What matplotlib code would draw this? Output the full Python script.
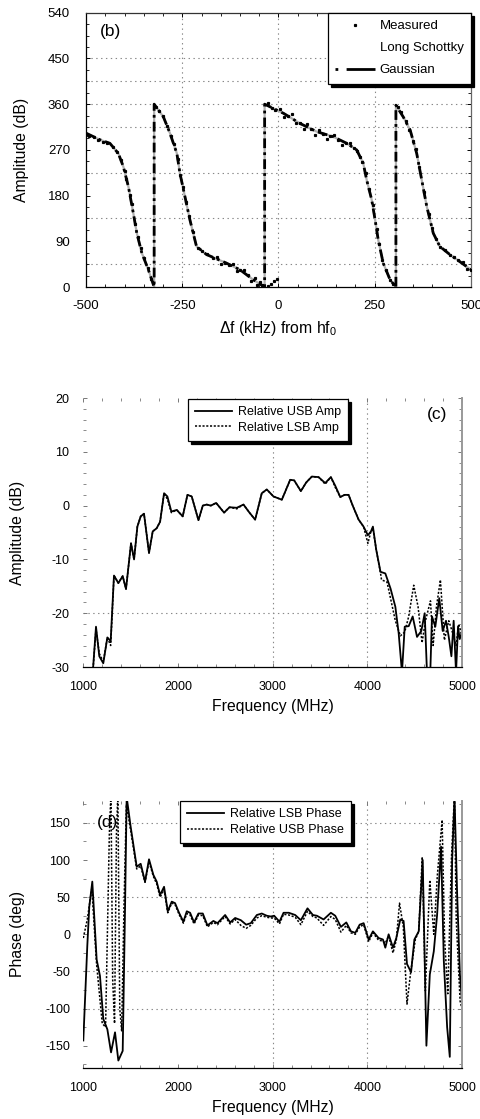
import matplotlib
matplotlib.use("Agg")
import matplotlib.pyplot as plt
from matplotlib.ticker import MultipleLocator
from matplotlib.lines import Line2D

plt.rcParams['font.family'] = ['Liberation Sans', 'DejaVu Sans']
plt.rcParams['mathtext.default'] = 'regular'
plt.rcParams['lines.scale_dashes'] = False
plt.rcParams['axes.unicode_minus'] = False

# ---- panel (b): phase sawtooth vs offset frequency ----
gauss_df = [-500, -464, -438, -416, -403, -390, -377, -368, -355, -338, -323,
            -323, -299, -282, -264, -256, -243, -230, -213, -187, -135, -100, -65, -36,
            -36, 13, 56, 99, 142, 177, 203, 220, 229, 242, 251, 259, 272, 290, 305,
            305, 324, 342, 359, 372, 385, 402, 419, 445, 471, 500]
gauss_amp = [303, 290, 283, 263, 237, 198, 145, 106, 67, 34, 0,
             360, 335, 303, 263, 224, 178, 132, 80, 64, 47, 34, 14, 0,
             360, 342, 322, 306, 296, 283, 270, 244, 211, 172, 132, 93, 47, 14, 0,
             358, 335, 309, 263, 211, 159, 106, 80, 64, 50, 34]

meas_df = [-500, -492, -480, -470, -455, -445, -430, -420, -410, -400, -395, -385, -380, -372,
           -365, -358, -350, -340, -330,
           -318, -310, -300, -290, -280, -272, -262, -255, -248, -240, -232, -222, -210, -198,
           -185, -170, -160, -150, -140, -128, -118, -108, -100, -90, -80, -72, -62, -55, -48, -42,
           -28, -20, -12, -5,
           -28, -18, -8, 5, 15, 25, 35, 45, 55, 65, 75, 85, 95, 105, 115, 125, 135, 145, 155,
           165, 175, 185, 195, 205, 212, 218, 226, 235, 245, 255, 262, 270, 280, 290, 298,
           310, 318, 330, 340, 350, 356, 365, 378, 390, 398, 410, 420, 432, 445, 455, 465, 478,
           490, 500]
meas_amp = [300, 298, 295, 290, 286, 284, 276, 266, 250, 228, 212, 182, 164, 124,
            98, 76, 58, 38, 16,
            355, 346, 336, 318, 298, 281, 253, 220, 196, 168, 140, 108, 77, 71,
            66, 58, 60, 46, 48, 44, 45, 32, 34, 33, 23, 12, 18, 3, 10, 3,
            2, 6, 11, 16,
            362, 353, 349, 350, 335, 337, 340, 322, 322, 312, 320, 311, 300, 310, 302, 292, 298,
            300, 290, 280, 284, 283, 274, 267, 256, 247, 225, 193, 162, 114, 84, 54, 33, 14, 6,
            355, 345, 326, 310, 287, 272, 236, 187, 143, 116, 94, 79, 72, 64, 59, 53, 50,
            36, 34]

# ---- panel (c): relative sideband amplitude ----
usb_f = [1100, 1134, 1169, 1211, 1254, 1289, 1324, 1370, 1416, 1451, 1504, 1536, 1571, 1606,
         1641, 1694, 1733, 1775, 1811, 1853, 1888, 1930, 1987, 2050, 2100, 2145, 2216, 2262,
         2304, 2347, 2403, 2487, 2544, 2621, 2692, 2755, 2815, 2885, 2938, 3009, 3097, 3185,
         3227, 3298, 3354, 3414, 3485, 3555, 3615, 3661, 3714, 3760, 3802, 3848, 3908, 3960,
         4006, 4038, 4059, 4094, 4139, 4190, 4245, 4296, 4331, 4366, 4395, 4437, 4479, 4525,
         4570, 4606, 4630, 4665, 4683, 4718, 4760, 4796, 4831, 4860, 4888, 4912, 4937, 4958,
         4976, 5000]
usb_amp = [-31, -22.5, -28, -29.3, -24.5, -25.2, -13, -14.4, -13.1, -15.5, -7, -10, -3.9, -2,
           -1.5, -8.8, -4.8, -4.2, -3, 2.3, 1.7, -1.1, -0.8, -2, 2, 1.7, -2.7, 0,
           0.2, 0, 0.5, -1.3, -0.3, -0.4, 0.2, -1.3, -2.6, 2.3, 3, 1.7, 1.1, 4.8,
           4.7, 2.7, 4.3, 5.4, 5.3, 4.2, 5.3, 3.7, 1.6, 2, 2, -0.1, -2.6, -3.9,
           -5.5, -4.8, -3.9, -8.2, -12.3, -12.6, -15.4, -18.8, -23.7, -31, -22.5, -22.4, -20.6, -24.4,
           -23.3, -20, -31, -31, -20.6, -22.5, -17.2, -23.3, -21.4, -24.4, -28, -21.4, -31, -22.5,
           -24.8, -23.5]
lsb_f = [1100, 1134, 1169, 1211, 1254, 1289, 1324, 1370, 1416, 1451, 1504, 1536, 1571, 1606,
         1641, 1694, 1733, 1775, 1811, 1853, 1888, 1930, 1987, 2050, 2100, 2145, 2216, 2262,
         2304, 2347, 2403, 2487, 2544, 2621, 2692, 2755, 2815, 2885, 2938, 3009, 3097, 3185,
         3227, 3298, 3354, 3414, 3485, 3555, 3615, 3661, 3714, 3760, 3802, 3848, 3908, 3960,
         4006, 4038, 4059, 4094, 4139, 4150, 4208, 4296, 4349, 4395, 4437, 4490, 4536, 4578,
         4614, 4667, 4695, 4730, 4772, 4814, 4860, 4895, 4937, 4965, 5000]
lsb_amp = [-31, -23, -27.5, -29, -24.5, -26, -13, -14.4, -13.1, -15.5, -7, -10, -3.9, -2,
           -1.5, -8.8, -4.8, -4.2, -3, 2.3, 1.2, -1.3, -0.8, -2, 2, 1.7, -2.7, 0,
           0.2, 0, 0.5, -1.3, -0.3, -0.6, 0.2, -1.3, -2.6, 2.3, 3, 1.7, 1.1, 4.8,
           4.7, 2.7, 4.3, 5.4, 5.3, 4.0, 5.3, 3.4, 1.6, 2, 2, -0.1, -2.6, -3.9,
           -7, -4.8, -4.2, -8.2, -12.5, -13.8, -14.2, -21.4, -24.2, -23.5, -20.6, -14.8, -18.8, -25.5,
           -21.4, -17.7, -26, -18.8, -13.8, -25, -21.4, -23.3, -26, -22, -24.2]

# ---- panel (d): relative sideband phase ----
lsbp_f = [1000, 1042, 1063, 1095, 1141, 1176, 1211, 1254, 1293, 1335, 1370, 1416, 1441, 1458,
          1500, 1564, 1606, 1652, 1694, 1740, 1775, 1811, 1853, 1892, 1934, 1969, 2011, 2057,
          2093, 2128, 2170, 2216, 2262, 2311, 2374, 2417, 2498, 2551, 2604, 2664, 2720, 2769,
          2833, 2885, 2938, 2981, 3016, 3072, 3115, 3171, 3238, 3298, 3368, 3425, 3467, 3538,
          3615, 3661, 3721, 3778, 3827, 3873, 3919, 3961, 4014, 4059, 4119, 4165, 4190, 4225,
          4271, 4306, 4348, 4383, 4419, 4462, 4497, 4543, 4585, 4624, 4660, 4702, 4737, 4779,
          4808, 4843, 4871, 4896, 4921, 4949, 4978, 5000]
lsbp_deg = [-143, -16, 37, 71, -34, -56, -114, -128, -159, -132, -170, -157, 37, 185,
            145, 91, 95, 71, 101, 80, 71, 53, 64, 31, 44, 42, 29, 17,
            31, 29, 16, 28, 28, 12, 18, 15, 26, 16, 22, 19, 13, 15,
            26, 28, 25, 24, 25, 17, 29, 29, 26, 19, 35, 26, 25, 20,
            29, 25, 10, 16, 4, 2, 13, 15, -7, 4, -5, -7, -18, 0,
            -18, -5, 20, 18, -40, -51, -7, 4, 100, -150, -54, -23, 26, 118,
            -36, -125, -165, 100, 185, 53, -54, -90]
usbp_f = [1000, 1042, 1090, 1140, 1200, 1235, 1275, 1292, 1310, 1330, 1350, 1365, 1385, 1405,
          1430, 1455, 1500, 1564, 1606, 1652, 1694, 1740, 1775, 1811, 1853, 1892, 1934, 1969,
          2011, 2057, 2093, 2128, 2170, 2216, 2262, 2311, 2374, 2417, 2498, 2551, 2604, 2664,
          2720, 2769, 2833, 2885, 2938, 2981, 3016, 3072, 3115, 3171, 3238, 3298, 3368, 3425,
          3467, 3538, 3615, 3661, 3721, 3778, 3827, 3873, 3919, 3961, 4014, 4059, 4119, 4165,
          4190, 4225, 4271, 4306, 4340, 4380, 4419, 4455, 4507, 4543, 4580, 4613, 4660, 4702,
          4740, 4790, 4816, 4850, 4889, 4921, 4939, 4980, 5000]
usbp_deg = [-5, 20, 62, -40, -120, -125, 135, 190, -60, -120, 135, 190, -100, -130,
            40, 175, 140, 88, 92, 70, 98, 78, 68, 50, 60, 29, 42, 40,
            27, 15, 28, 26, 14, 26, 25, 10, 16, 13, 24, 14, 20, 12,
            8, 12, 22, 25, 23, 22, 22, 14, 27, 26, 23, 13, 31, 24,
            22, 12, 24, 20, 3, 12, 2, 0, 10, 13, -10, 2, -8, -9,
            -12, -2, -25, -8, 42, 10, -94, -54, -7, 4, 104, -76, 73, 0,
            80, 154, -6, -80, 104, 190, 20, -90, -100]

fig = plt.figure(figsize=(4.81, 11.19), dpi=100)
LAB = 11.3

def grid_h(ax, vals):
    for v in vals:
        ax.axhline(v, color='#888888', ls=(0, (1, 2.5)), lw=0.8, zorder=0)

def grid_v(ax, vals):
    for v in vals:
        ax.axvline(v, color='#888888', ls=(0, (1, 2.5)), lw=0.8, zorder=0)

def legend_box(ax, **kw):
    leg = ax.legend(frameon=True, fancybox=False, edgecolor='black', framealpha=1,
                    shadow={'ox': 2.2, 'oy': -2.2, 'color': 'black', 'alpha': 1}, **kw)
    leg.get_frame().set_linewidth(0.9)
    return leg

# panel (b)
ax1 = fig.add_axes([0.1788, 0.7435, 0.8004, 0.2451])
grid_h(ax1, [45, 135, 225, 315, 360, 405, 450])
grid_v(ax1, [-250, 0, 250])
ax1.plot(gauss_df, gauss_amp, color='#b0b0b0', lw=1.6, zorder=2)
ax1.plot(meas_df, meas_amp, ls='none', marker='s', ms=1.3, color='black', zorder=3)
ax1.plot(gauss_df, gauss_amp, color='black', lw=2.0, dashes=(7, 3, 2, 3), zorder=4)
ax1.set_xlim(-500, 500)
ax1.set_ylim(0, 540)
ax1.xaxis.set_major_locator(MultipleLocator(250))
ax1.xaxis.set_minor_locator(MultipleLocator(50))
ax1.yaxis.set_major_locator(MultipleLocator(90))
ax1.yaxis.set_minor_locator(MultipleLocator(22.5))
ax1.set_xlabel('Δf (kHz) from hf$_0$', fontsize=LAB)
ax1.set_ylabel('Amplitude (dB)', fontsize=LAB)
ax1.xaxis.set_label_coords(0.5, -0.118)
ax1.yaxis.set_label_coords(-0.149, 0.5)
ax1.text(0.036, 0.93, '(b)', transform=ax1.transAxes, fontsize=12.5, va='center', ha='left')
h_meas = Line2D([], [], ls='none', marker='s', ms=1.3, color='black')
h_ls = Line2D([], [], color='white', lw=1)
h_g = Line2D([], [], color='black', lw=2.0, dashes=(2, 6, 22, 0))
legend_box(ax1, handles=[h_meas, h_ls, h_g], labels=['Measured', 'Long Schottky', 'Gaussian'],
           loc='upper right', bbox_to_anchor=(1.0, 1.0), fontsize=9.5, handlelength=3.0,
           labelspacing=0.74, borderpad=0.56, handletextpad=0.38, borderaxespad=0)
ax1.tick_params(axis='y', which='major', pad=11.5)
ax1.tick_params(axis='x', which='major', pad=9.5)
ax1.tick_params(which='both', labelsize=9.5)

# panel (c)
ax2 = fig.add_axes([0.1732, 0.4039, 0.7873, 0.2404])
grid_h(ax2, [-20])
grid_v(ax2, [3000, 4000])
ax2.plot(usb_f, usb_amp, color='black', lw=1.3, label='Relative USB Amp')
ax2.plot(lsb_f, lsb_amp, color='black', lw=1.1, dashes=(1.5, 1.2), label='Relative LSB Amp')
ax2.set_xlim(1000, 5000)
ax2.set_ylim(-30, 20)
ax2.xaxis.set_major_locator(MultipleLocator(1000))
ax2.xaxis.set_minor_locator(MultipleLocator(200))
ax2.yaxis.set_major_locator(MultipleLocator(10))
ax2.yaxis.set_minor_locator(MultipleLocator(2))
ax2.set_xlabel('Frequency (MHz)', fontsize=LAB)
ax2.set_ylabel('Amplitude (dB)', fontsize=LAB)
ax2.xaxis.set_label_coords(0.5, -0.119)
ax2.yaxis.set_label_coords(-0.155, 0.5)
ax2.text(0.934, 0.937, '(c)', transform=ax2.transAxes, fontsize=12.5, va='center', ha='center')
legend_box(ax2, loc='upper left', bbox_to_anchor=(0.2765, 0.996), fontsize=9, handlelength=2.9,
           labelspacing=0.28, borderpad=0.58, handletextpad=0.5, borderaxespad=0)
ax2.tick_params(axis='y', which='major', pad=10)
ax2.tick_params(axis='x', which='major', pad=10)

# panel (d)
ax3 = fig.add_axes([0.1732, 0.0456, 0.7873, 0.2389])
grid_h(ax3, [150, 50, -50, -100])
grid_v(ax3, [3000, 4000])
ax3.plot(lsbp_f, lsbp_deg, color='black', lw=1.3, label='Relative LSB Phase')
ax3.plot(usbp_f, usbp_deg, color='black', lw=1.1, dashes=(1.5, 1.2), label='Relative USB Phase')
ax3.set_xlim(1000, 5000)
ax3.set_ylim(-180, 180)
ax3.xaxis.set_major_locator(MultipleLocator(1000))
ax3.xaxis.set_minor_locator(MultipleLocator(200))
ax3.yaxis.set_major_locator(MultipleLocator(50))
ax3.yaxis.set_minor_locator(MultipleLocator(25))
ax3.set_xlabel('Frequency (MHz)', fontsize=LAB)
ax3.set_ylabel('Phase (deg)', fontsize=LAB)
ax3.xaxis.set_label_coords(0.5, -0.12)
ax3.yaxis.set_label_coords(-0.155, 0.5)
ax3.text(0.036, 0.917, '(d)', transform=ax3.transAxes, fontsize=12.5, va='center', ha='left')
legend_box(ax3, loc='upper left', bbox_to_anchor=(0.2555, 0.998), fontsize=9, handlelength=2.9,
           labelspacing=0.28, borderpad=0.58, handletextpad=0.5, borderaxespad=0)
ax3.tick_params(axis='y', which='major', pad=9.5)
ax3.tick_params(axis='x', which='major', pad=10)

for ax in (ax1, ax2, ax3):
    ax.tick_params(which='both', direction='in', top=True, right=True)
    ax.tick_params(which='major', length=3, width=0.7)
    ax.tick_params(which='minor', length=2, width=0.6)
    for s in ax.spines.values():
        s.set_linewidth(0.9)
for ax in (ax2, ax3):
    ax.tick_params(which='both', labelsize=9)

ax1.spines['right'].set_color('#666666')
ax1.spines['top'].set_color('#333333')
for ax in (ax2, ax3):
    ax.spines['top'].set_visible(False)
    ax.spines['left'].set_visible(False)
    ax.spines['right'].set_color('#999999')
    ax.spines['right'].set_linewidth(1.4)
    ax.tick_params(which='both', color='#777777')

fig.savefig('out.png', dpi=100)
